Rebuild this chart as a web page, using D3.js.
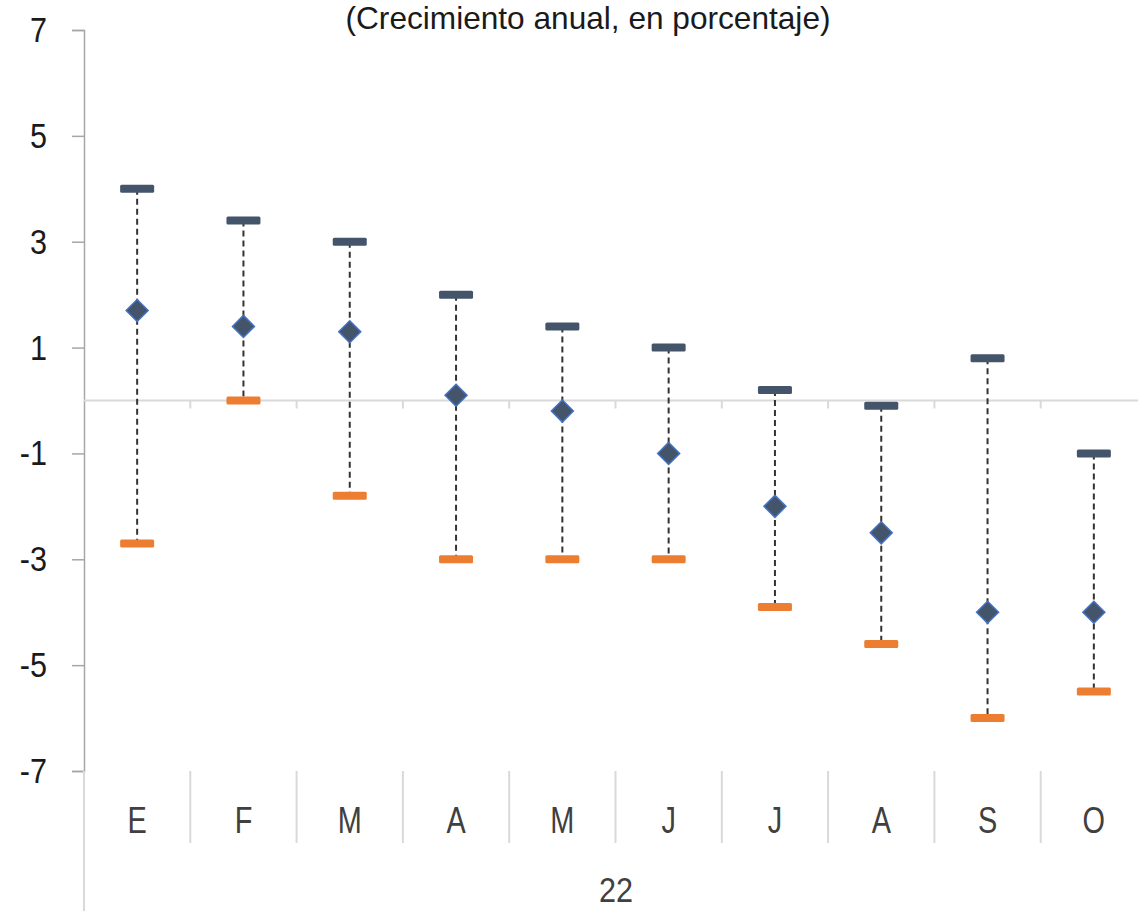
<!DOCTYPE html>
<html><head><meta charset="utf-8">
<script src="https://cdn.jsdelivr.net/npm/d3@7"></script>
<style>
html,body{margin:0;padding:0;background:#fff;}
svg{display:block;font-family:"Liberation Sans",Arial,sans-serif;}
</style></head><body>
<svg id="c" width="1138" height="911"></svg>
<script>
const months = ["E","F","M","A","M","J","J","A","S","O"];
const yearLabel = "22";
const maxVals = [4.0, 3.4, 3.0, 2.0, 1.4, 1.0, 0.2, -0.1, 0.8, -1.0];
const minVals = [-2.7, 0.0, -1.8, -3.0, -3.0, -3.0, -3.9, -4.6, -6.0, -5.5];
const midVals = [1.7, 1.4, 1.3, 0.1, -0.2, -1.0, -2.0, -2.5, -4.0, -4.0];
const yTicks = [7,5,3,1,-1,-3,-5,-7];
const title = "(Crecimiento anual, en porcentaje)";

(function(){
const svg = d3.select("#c");
const mLeft = 84, mTop = 30, mBottom = 771;
const bandW = 106.3;
const idx = d3.range(months.length);
const x = d3.scaleBand().domain(idx).range([mLeft, mLeft + bandW*months.length]).paddingInner(0).paddingOuter(0);
const y = d3.scaleLinear().domain([-7,7]).range([mBottom, mTop]);

function ntext(g, tx, ty, str, size, sx, anchor, fill){
  return g.append("text").attr("transform",`translate(${tx},${ty}) scale(${sx},1)`)
    .attr("text-anchor",anchor).attr("font-size",size).attr("fill",fill).text(str);
}

// title fitted to width
svg.append("text").attr("x",588).attr("y",29).attr("text-anchor","middle")
  .attr("font-size",32).attr("fill","#1a1a1a").attr("textLength",485)
  .attr("lengthAdjust","spacingAndGlyphs").text(title);

// y axis
const yAxis = d3.axisLeft(y).tickValues(yTicks).tickSize(12).tickFormat("");
const gy = svg.append("g").attr("transform",`translate(${mLeft},0)`).call(yAxis);
gy.select(".domain").attr("stroke","#a6a6a6").attr("stroke-width",1.5);
gy.selectAll(".tick line").attr("stroke","#a6a6a6").attr("stroke-width",1.5);
yTicks.forEach(v=>{
  ntext(svg, 47, y(v)+12, String(v), 36, 0.85, "end", "#1a1a1a");
});

// zero line with boundary ticks
svg.append("line").attr("x1",mLeft).attr("x2",1138).attr("y1",y(0)).attr("y2",y(0))
  .attr("stroke","#d9d9d9").attr("stroke-width",2);
idx.slice(1).forEach(i=>{
  svg.append("line").attr("x1",x(i)).attr("x2",x(i)).attr("y1",y(0)).attr("y2",y(0)+8)
    .attr("stroke","#d9d9d9").attr("stroke-width",2);
});

// category axis (multi-level)
idx.slice(1).forEach(i=>{
  svg.append("line").attr("x1",x(i)).attr("x2",x(i)).attr("y1",mBottom).attr("y2",843)
    .attr("stroke","#d9d9d9").attr("stroke-width",2);
});
svg.append("line").attr("x1",mLeft).attr("x2",mLeft).attr("y1",mBottom).attr("y2",911)
  .attr("stroke","#d9d9d9").attr("stroke-width",2);
months.forEach((m,i)=>{
  ntext(svg, x(i)+x.bandwidth()/2, 833, m, 37, 0.78, "middle", "#404040");
});
ntext(svg, 616, 902, yearLabel, 36, 0.85, "middle", "#404040");

// dashed range lines
const cx = i => x(i)+x.bandwidth()/2;
svg.selectAll("line.rng").data(idx).join("line").attr("class","rng")
  .attr("x1",cx).attr("x2",cx).attr("y1",i=>y(maxVals[i])).attr("y2",i=>y(minVals[i]))
  .attr("stroke","#333333").attr("stroke-width",2).attr("stroke-dasharray","6,4");

// caps
const capW = 34, capH = 8;
svg.selectAll("rect.mx").data(idx).join("rect").attr("class","mx")
  .attr("x",i=>cx(i)-capW/2).attr("y",i=>y(maxVals[i])-capH/2).attr("width",capW).attr("height",capH)
  .attr("rx",1.5).attr("fill","#44546a");
svg.selectAll("rect.mn").data(idx).join("rect").attr("class","mn")
  .attr("x",i=>cx(i)-capW/2).attr("y",i=>y(minVals[i])-capH/2).attr("width",capW).attr("height",capH)
  .attr("rx",1.5).attr("fill","#ed7d31");

// diamonds
const ds = 11;
svg.selectAll("path.dm").data(idx).join("path").attr("class","dm")
  .attr("d",i=>{const X=cx(i),Y=y(midVals[i]);return `M${X},${Y-ds}L${X+ds},${Y}L${X},${Y+ds}L${X-ds},${Y}Z`;})
  .attr("fill","#44546a").attr("stroke","#4472c4").attr("stroke-width",1.5);
})();
</script>
</body></html>
